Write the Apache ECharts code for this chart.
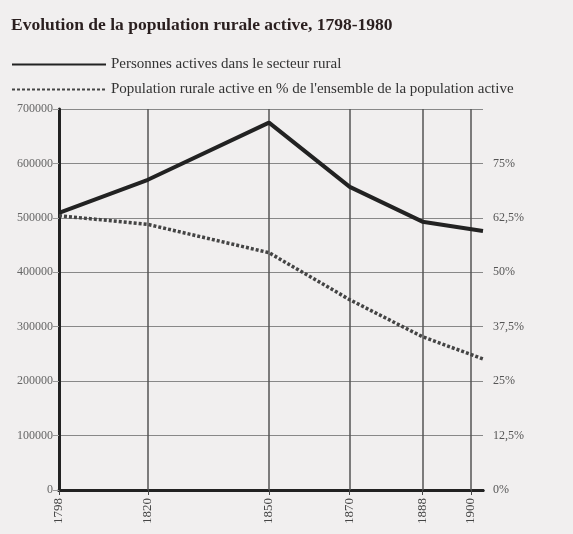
<!DOCTYPE html>
<html>
<head>
  <meta charset="utf-8">
  <title>Evolution de la population rurale active</title>
  <script src="https://cdn.jsdelivr.net/npm/echarts/dist/echarts.min.js"></script>
  <style>
    html, body { margin: 0; padding: 0; background: #f1efef; }
    #chart { width: 573px; height: 534px; }
  </style>
</head>
<body>
  <div id="chart"></div>
  <script>
    // donnees
    var years = [1798, 1820, 1850, 1870, 1888, 1903];
    var yearLabels = [1798, 1820, 1850, 1870, 1888, 1900];
    var actifs = [509000, 570000, 675000, 557000, 493000, 476000];
    var pourcent = [63, 61, 54.5, 43.7, 35.2, 30.1];

    var serif = '"Liberation Serif", "DejaVu Serif", serif';
    var chart = echarts.init(document.getElementById('chart'));

    var option = {
      backgroundColor: '#f1efef',
      title: {
        text: 'Evolution de la population rurale active, 1798-1980',
        left: 6, top: 11,
        textStyle: { fontFamily: serif, fontSize: 17.5, fontWeight: 'bold', color: '#2a1f1f' }
      },
      legend: {
        orient: 'vertical',
        left: 6, top: 52,
        itemWidth: 94, itemHeight: 12, itemGap: 10,
        itemStyle: { opacity: 0 },
        textStyle: { fontFamily: serif, fontSize: 15, color: '#333' },
        data: [
          'Personnes actives dans le secteur rural',
          "Population rurale active en % de l'ensemble de la population active"
        ]
      },
      grid: { left: 59, right: 90, top: 109, bottom: 44 },
      xAxis: [{
        type: 'value', min: 1798, max: 1903,
        axisLine: { lineStyle: { color: '#222', width: 3 } },
        axisTick: { customValues: yearLabels, length: 5, lineStyle: { color: '#444' } },
        axisLabel: {
          customValues: yearLabels, rotate: 90, margin: 8,
          fontFamily: serif, fontSize: 13, color: '#444',
          formatter: function (v) { return String(v); }
        },
        splitLine: { show: false }
      }, {
        type: 'value', min: 1798, max: 1903, position: 'top',
        axisLine: { show: true, lineStyle: { color: '#222', width: 3 } },
        axisTick: { show: false }, axisLabel: { show: false }, splitLine: { show: false }
      }],
      yAxis: [{
        type: 'value', min: 0, max: 700000, interval: 100000,
        axisLine: { show: true, lineStyle: { color: '#222', width: 3 } },
        axisTick: { show: true, length: 6, lineStyle: { color: '#999' } },
        axisLabel: {
          fontFamily: serif, fontSize: 12, color: '#666', margin: 6,
          formatter: function (v) { return String(v); }
        },
        splitLine: { lineStyle: { color: '#888', width: 1 } }
      }, {
        type: 'value', min: 0, max: 87.5, interval: 12.5, position: 'right',
        axisLine: { show: false },
        axisTick: { show: false },
        axisLabel: {
          fontFamily: serif, fontSize: 12, color: '#555', margin: 10,
          formatter: function (v) { return v >= 87.5 ? '' : String(v).replace('.', ',') + '%'; }
        },
        splitLine: { show: false }
      }],
      series: [{
        name: 'Personnes actives dans le secteur rural',
        type: 'line', yAxisIndex: 0, symbol: 'none', z: 5,
        lineStyle: { color: '#222', width: 4 },
        itemStyle: { color: '#222' },
        data: years.map(function (y, i) { return [y, actifs[i]]; }),
        markLine: {
          silent: true, symbol: 'none', label: { show: false },
          lineStyle: { color: '#555', width: 1.5, type: 'solid' },
          data: yearLabels.slice(1).map(function (y) { return { xAxis: y }; })
        }
      }, {
        name: "Population rurale active en % de l'ensemble de la population active",
        type: 'line', yAxisIndex: 1, symbol: 'none', z: 5,
        lineStyle: { color: '#444', width: 3.5, type: [3, 2] },
        itemStyle: { color: '#444' },
        data: years.map(function (y, i) { return [y, pourcent[i]]; })
      }]
    };

    chart.setOption(option);
  </script>
</body>
</html>
